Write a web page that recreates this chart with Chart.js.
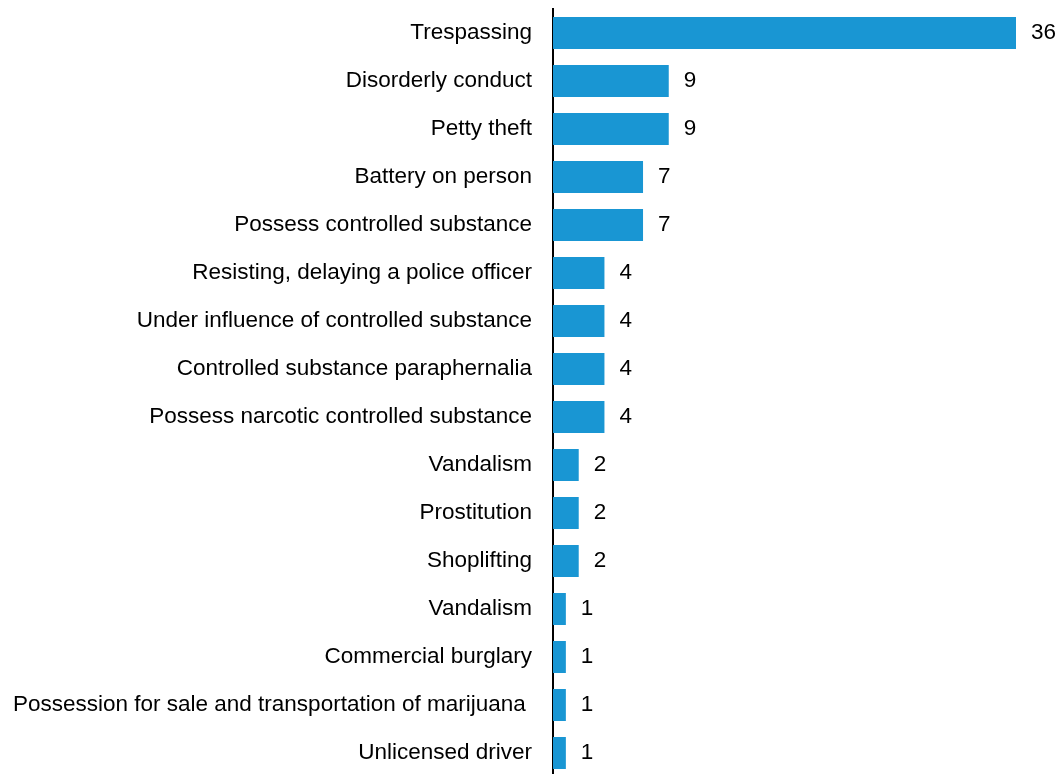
<!DOCTYPE html>
<html>
<head>
<meta charset="utf-8">
<script src="https://cdn.jsdelivr.net/npm/chart.js@4.4.1/dist/chart.umd.min.js"></script>
<style>
  html, body { margin: 0; padding: 0; background: #ffffff; overflow: hidden; }
  canvas { display: block; }
</style>
</head>
<body>
<canvas id="c" width="1060" height="780"></canvas>
<script>
const categories = [
  "Trespassing",
  "Disorderly conduct",
  "Petty theft",
  "Battery on person",
  "Possess controlled substance",
  "Resisting, delaying a police officer",
  "Under influence of controlled substance",
  "Controlled substance paraphernalia",
  "Possess narcotic controlled substance",
  "Vandalism",
  "Prostitution",
  "Shoplifting",
  "Vandalism",
  "Commercial burglary",
  "Possession for sale and transportation of marijuana ",
  "Unlicensed driver"
];
const counts = [36, 9, 9, 7, 7, 4, 4, 4, 4, 2, 2, 2, 1, 1, 1, 1];

const FONT = "'Liberation Sans', Arial, Helvetica, sans-serif";
const FONT_SIZE = 22.5;

const valueLabels = {
  id: 'valueLabels',
  afterDatasetsDraw(chart) {
    const ctx = chart.ctx;
    const meta = chart.getDatasetMeta(0);
    ctx.save();
    ctx.font = FONT_SIZE + "px " + FONT;
    ctx.fillStyle = "#000000";
    ctx.textAlign = "left";
    ctx.textBaseline = "middle";
    meta.data.forEach((bar, i) => {
      ctx.fillText(String(counts[i]), bar.x + 15, bar.y);
    });
    ctx.restore();
  }
};

new Chart(document.getElementById('c'), {
  type: 'bar',
  data: {
    labels: categories,
    datasets: [{
      data: counts,
      backgroundColor: '#1996d3',
      borderWidth: 0,
      barPercentage: 0.667,
      categoryPercentage: 1.0
    }]
  },
  options: {
    indexAxis: 'y',
    responsive: false,
    maintainAspectRatio: false,
    animation: false,
    devicePixelRatio: 1,
    layout: { padding: { top: 9, bottom: 3, left: 0, right: 44 } },
    plugins: {
      legend: { display: false },
      tooltip: { enabled: false }
    },
    scales: {
      x: {
        display: false,
        min: 0,
        max: 36
      },
      y: {
        grid: { display: false, drawTicks: false },
        border: { display: true, color: '#000000', width: 2 },
        ticks: {
          autoSkip: false,
          color: '#000000',
          padding: 21,
          font: { family: FONT, size: FONT_SIZE }
        },
        afterFit(scale) {
          scale.width = 553;
          scale.paddingTop = 0;
          scale.paddingBottom = 0;
        }
      }
    }
  },
  plugins: [valueLabels]
});
</script>
</body>
</html>
